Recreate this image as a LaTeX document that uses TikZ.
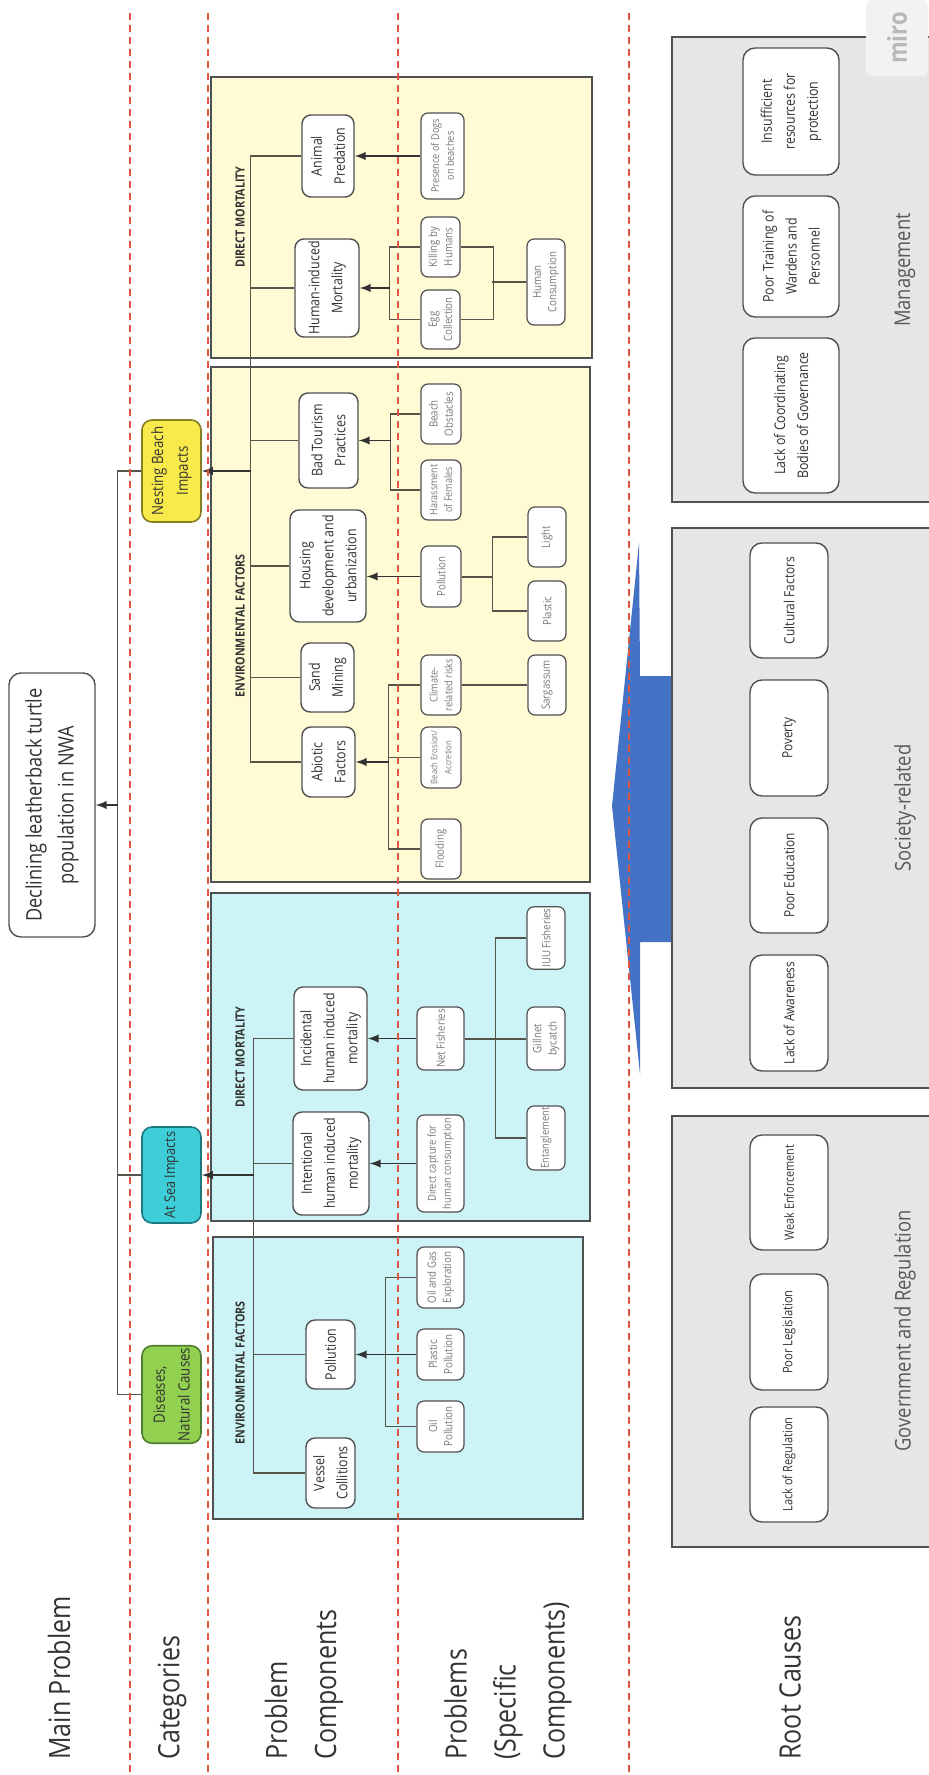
\documentclass[tikz,border=0pt]{standalone}
\usepackage{fontspec}
\setmainfont{Open Sans}[FakeStretch=0.85]
\usepackage{xcolor}
\usepackage{tikz}
\usetikzlibrary{calc}
\usetikzlibrary{shapes,arrows,positioning}

\definecolor{seafill}{RGB}{204,243,246}
\definecolor{beachfill}{RGB}{255,251,213}
\definecolor{rootfill}{RGB}{230,230,230}
\definecolor{disfill}{RGB}{146,208,80}
\definecolor{disline}{RGB}{80,125,50}
\definecolor{seacat}{RGB}{62,206,216}
\definecolor{sealine}{RGB}{30,120,128}
\definecolor{nestfill}{RGB}{249,234,75}
\definecolor{nestline}{RGB}{135,125,35}
\definecolor{bluearrow}{RGB}{68,114,196}
\definecolor{sepred}{RGB}{222,85,65}
\definecolor{boxline}{RGB}{80,80,80}
\definecolor{linkcol}{RGB}{85,85,75}
\definecolor{txtdark}{RGB}{51,51,51}
\definecolor{txtgray}{RGB}{120,120,120}

\newcommand{\fsz}[2]{\fontsize{#1}{#2}\selectfont}

\tikzset{
  rot/.style={rotate=90},
  rowlabel/.style={rot, anchor=west, align=left, inner sep=0pt, text=txtdark, font=\fsz{14.7pt}{24.5pt}},
  catbox/.style={rot, draw, rounded corners=5pt, line width=0.8pt, align=center, inner sep=1pt, text=txtdark, font=\fsz{7.8pt}{12.4pt}, minimum height=29.5pt},
  midbox/.style={rot, draw=boxline, fill=white, rounded corners=4.5pt, line width=0.7pt, align=center, inner sep=1pt, text=txtdark, font=\fsz{7.3pt}{11.5pt}},
  leafbox/.style={rot, draw=boxline, fill=white, rounded corners=3.5pt, line width=0.6pt, align=center, inner sep=0.8pt, text=txtgray, font=\fsz{5.7pt}{7.6pt}},
  rootbox/.style={rot, draw=boxline, fill=white, rounded corners=6pt, line width=0.7pt, align=center, inner sep=1pt, text=txtdark, font=\fsz{7pt}{11.5pt}, minimum height=39pt},
  grouptitle/.style={rot, inner sep=0pt, text=txtdark, font=\fsz{6.3pt}{8pt}\bfseries},
  rootlabel/.style={rot, inner sep=0pt, text=black!65, font=\fsz{10.8pt}{13pt}},
  panel/.style={draw=boxline, line width=0.8pt},
  conn/.style={draw=linkcol, line width=0.6pt},
  feed/.style={draw=black!80, line width=0.9pt, -latex},
  rowsep/.style={draw=sepred, line width=0.7pt, dash pattern=on 3.5pt off 2.5pt},
}

\begin{document}
\begin{tikzpicture}[x=0.5pt,y=-0.5pt]
  \useasboundingbox (0,0) rectangle (928,1775);

  % row labels
  \node[rowlabel] (lmain) at (59,1760) {Main Problem};
  \node[rowlabel] (lcat) at (172,1760) {Categories};
  \node[rowlabel] (lcomp) at (304,1760) {Problem\\Components};
  \node[rowlabel] (lspec) at (508,1760) {Problems\\(Specific\\Components)};
  \node[rowlabel] (lroot) at (790,1760) {Root Causes};

  % main problem and categories
  \node[midbox, rounded corners=6pt, font=\fsz{10.7pt}{16pt}, minimum width=132pt, minimum height=43pt] (decl) at (52,805) {Declining leatherback turtle\\population in NWA};
  \node[catbox, fill=disfill, draw=disline, minimum width=48.5pt] (dis) at (171.5,1394.5) {Diseases,\\Natural Causes};
  \node[catbox, fill=seacat, draw=sealine, minimum width=48pt, font=\fsz{7.4pt}{12pt}] (sea) at (171.5,1175) {At Sea Impacts};
  \node[catbox, fill=nestfill, draw=nestline, minimum width=51pt] (nest) at (171.5,471) {Nesting Beach\\Impacts};
  \coordinate (mainbus) at (118,805);
  \draw[conn] (dis.north) -- ++(-24,0) |- (nest.north);
  \draw[conn] (sea.north) -- (sea.north -| mainbus);
  \draw[feed] (mainbus) -- (decl.south);

  % at sea: environmental factors
  \draw[panel, fill=seafill] (213,1237) rectangle (583,1519);
  \node[grouptitle] (t1) at (240,1373) {ENVIRONMENTAL FACTORS};
  \node[midbox, minimum width=35pt, minimum height=24.5pt] (vessel) at (330.5,1473) {Vessel\\Collitions};
  \node[midbox, minimum width=34.5pt, minimum height=24.5pt] (poll) at (330.5,1354.5) {Pollution};
  \node[leafbox, minimum width=25.5pt, minimum height=23.5pt] (oilp) at (440.5,1426.5) {Oil\\Pollution};
  \node[leafbox, minimum width=25.5pt, minimum height=23.5pt] (plap) at (440.5,1354.5) {Plastic\\Pollution};
  \node[leafbox, minimum width=30.5pt, minimum height=23.5pt] (oilg) at (440.5,1277.5) {Oil and Gas\\Exploration};

  % at sea: direct mortality
  \draw[panel, fill=seafill] (211,893) rectangle (590,1221);
  \node[grouptitle] (t2) at (240,1057) {DIRECT MORTALITY};
  \node[midbox, minimum width=51.5pt, minimum height=38pt] (inten) at (331,1163.5) {Intentional\\human induced\\mortality};
  \node[midbox, minimum width=51.5pt, minimum height=36.5pt] (incid) at (330.5,1038.5) {Incidental\\human induced\\mortality};
  \node[leafbox, minimum width=48.5pt, minimum height=23.5pt, font=\fsz{5.5pt}{7.4pt}] (capt) at (440.5,1163.5) {Direct capture for\\human consumption};
  \node[leafbox, minimum width=31.5pt, minimum height=23.5pt] (netf) at (440.5,1038.5) {Net Fisheries};
  \node[leafbox, minimum width=32pt, minimum height=19pt, font=\fsz{5.5pt}{7.4pt}] (ent) at (546,1138) {Entanglement};
  \node[leafbox, minimum width=31.5pt, minimum height=19pt] (gill) at (546,1038.5) {Gillnet\\bycatch};
  \node[leafbox, minimum width=30pt, minimum height=19pt] (iuu) at (546,938) {IUU Fisheries};

  \coordinate (seabus) at (254,1175);
  \draw[conn] (vessel.north) -- ++(-52,0) |- (incid.north);
  \draw[conn] (poll.north) -- (poll.north -| seabus);
  \draw[conn] (inten.north) -- (inten.north -| seabus);
  \draw[feed] (seabus) -- (sea.south);
  \draw[conn] (oilp.north) -- ++(-31,0) |- (oilg.north);
  \draw[feed] (plap.north) -- (poll.south);
  \draw[feed] (capt.north) -- (inten.south);
  \draw[feed] (netf.north) -- (incid.south);
  \draw[conn] (ent.north) -- ++(-31,0) |- (iuu.north);
  \draw[conn, line width=1pt] (netf.south) -- (gill.north);

  % nesting beach: environmental factors
  \draw[panel, fill=beachfill] (211,367) rectangle (590,882);
  \node[grouptitle] (t3) at (240,626) {ENVIRONMENTAL FACTORS};
  \node[midbox, minimum width=35pt, minimum height=26.5pt] (abio) at (328.5,762) {Abiotic\\Factors};
  \node[midbox, minimum width=34.5pt, minimum height=26.5pt] (sand) at (327.5,677.5) {Sand\\Mining};
  \node[midbox, minimum width=56pt, minimum height=38pt] (hous) at (328,566) {Housing\\development and\\urbanization};
  \node[midbox, minimum width=47.5pt, minimum height=29.5pt] (tour) at (328.5,440.5) {Bad Tourism\\Practices};
  \node[leafbox, minimum width=30pt, minimum height=20pt] (flood) at (441,849) {Flooding};
  \node[leafbox, minimum width=30.5pt, minimum height=20pt, font=\fsz{4.5pt}{7pt}] (eros) at (441,757.5) {Beach Erosion/\\Accretion};
  \node[leafbox, minimum width=30pt, minimum height=20pt, font=\fsz{5.4pt}{7.4pt}] (clim) at (441,685) {Climate-\\related risks};
  \node[leafbox, minimum width=30pt, minimum height=19pt] (sarg) at (547,685) {Sargassum};
  \node[leafbox, minimum width=30.5pt, minimum height=20pt] (spol) at (441,576.5) {Pollution};
  \node[leafbox, minimum width=30pt, minimum height=19pt] (plas) at (547,611) {Plastic};
  \node[leafbox, minimum width=30pt, minimum height=19pt] (light) at (547,537) {Light};
  \node[leafbox, minimum width=30pt, minimum height=20pt, font=\fsz{5.3pt}{7.4pt}] (hara) at (441,490) {Harassment\\of Females};
  \node[leafbox, minimum width=30pt, minimum height=20pt] (obst) at (441,414) {Beach\\Obstacles};

  % nesting beach: direct mortality
  \draw[panel, fill=beachfill] (211,77) rectangle (592,358);
  \node[grouptitle] (t4) at (240,217) {DIRECT MORTALITY};
  \node[midbox, minimum width=49pt, minimum height=32pt] (humm) at (327,288) {Human-induced\\Mortality};
  \node[midbox, minimum width=41pt, minimum height=26pt] (pred) at (328,156) {Animal\\Predation};
  \node[leafbox, minimum width=29.5pt, minimum height=19.5pt] (egg) at (440.5,319.5) {Egg\\Collection};
  \node[leafbox, minimum width=30pt, minimum height=19.5pt] (kill) at (440.5,247) {Killing by\\Humans};
  \node[leafbox, minimum width=43pt, minimum height=19pt] (hcon) at (546,282) {Human\\Consumption};
  \node[leafbox, minimum width=43pt, minimum height=21.5pt, font=\fsz{5.4pt}{7.4pt}] (dogs) at (442.5,156) {Presence of Dogs\\on beaches};

  \coordinate (nestbus) at (251,471);
  \coordinate (abiobus) at (389,762);
  \coordinate (plbus) at (493,576.5);
  \coordinate (tourbus) at (391,440.5);
  \coordinate (hmbus) at (390,288);
  \draw[conn] (abio.north) -- ++(-51,0) |- (pred.north);
  \draw[conn] (sand.north) -- (sand.north -| nestbus);
  \draw[conn] (hous.north) -- (hous.north -| nestbus);
  \draw[conn] (tour.north) -- (tour.north -| nestbus);
  \draw[conn] (humm.north) -- (humm.north -| nestbus);
  \draw[feed] (nestbus) -- (nest.south);
  \draw[conn] (flood.north) -- ++(-32,0) |- (clim.north);
  \draw[conn] (eros.north) -- (eros.north -| abiobus);
  \draw[feed] (abiobus) -- (abio.south);
  \draw[conn] (clim.south) -- (sarg.north);
  \draw[feed] (spol.north) -- (spol.north -| hous.south);
  \draw[conn] (light.north) -- ++(-35,0) |- (plas.north);
  \draw[conn, line width=1pt] (spol.south) -- (plbus);
  \draw[conn] (hara.north) -- ++(-30,0) |- (obst.north);
  \draw[feed] (tourbus) -- (tour.south);
  \draw[conn] (egg.north) -- ++(-31,0) |- (kill.north);
  \draw[feed] (hmbus) -- (humm.south);
  \draw[conn] (egg.south) -- ++(33,0) |- (kill.south);
  \draw[conn] (hcon.north) -- ++(-34,0);
  \draw[feed] (dogs.north) -- (pred.south);

  % root causes
  \fill[bluearrow] (639,543) -- (640,676) -- (672,676) -- (672,942) -- (640,942) -- (640,1074) -- (612,806) -- cycle;
  \draw[panel, fill=rootfill] (672,1116) rectangle (940,1547);
  \draw[panel, fill=rootfill] (672,528) rectangle (940,1088);
  \draw[panel, fill=rootfill] (672,37) rectangle (940,502);

  \node[rootbox, minimum width=57.5pt, font=\fsz{6.5pt}{11pt}] (lreg) at (789,1464.5) {Lack of Regulation};
  \node[rootbox, minimum width=58pt, font=\fsz{6.6pt}{11pt}] (pleg) at (789,1332) {Poor Legislation};
  \node[rootbox, minimum width=57.5pt, font=\fsz{6.4pt}{11pt}] (weak) at (789,1192.5) {Weak Enforcement};
  \node[rootbox, minimum width=58pt] (aware) at (789,1013) {Lack of Awareness};
  \node[rootbox, minimum width=57.5pt] (edu) at (789,875.5) {Poor Education};
  \node[rootbox, minimum width=58pt] (pov) at (789,738) {Poverty};
  \node[rootbox, minimum width=57.5pt] (cult) at (789,600.5) {Cultural Factors};
  \node[rootbox, minimum width=77.5pt, minimum height=48pt, font=\fsz{7.3pt}{11.5pt}] (coord) at (791,415.5) {Lack of Coordinating\\Bodies of Governance};
  \node[rootbox, minimum width=60.5pt, minimum height=48pt, font=\fsz{7.3pt}{11.5pt}] (train) at (791,256.5) {Poor Training of\\Wardens and\\Personnel};
  \node[rootbox, minimum width=63.5pt, minimum height=48pt, font=\fsz{7.3pt}{11.5pt}] (insuf) at (791,111.5) {Insufficient\\resources for\\protection};

  \node[rootlabel] (gov) at (905,1331) {Government and Regulation};
  \node[rootlabel] (soc) at (905,808) {Society-related};
  \node[rootlabel] (mgmt) at (905,270) {Management};

  \node[rot, fill=black!5, rounded corners=3pt, minimum width=38pt, minimum height=31pt, text=black!28, font=\fsz{13pt}{13pt}\bfseries] (miro) at (897,38) {miro};

  % row separators
  \foreach \x in {130,208,398,629}
    \draw[rowsep] (\x,13) -- (\x,1775);
\end{tikzpicture}
\end{document}
